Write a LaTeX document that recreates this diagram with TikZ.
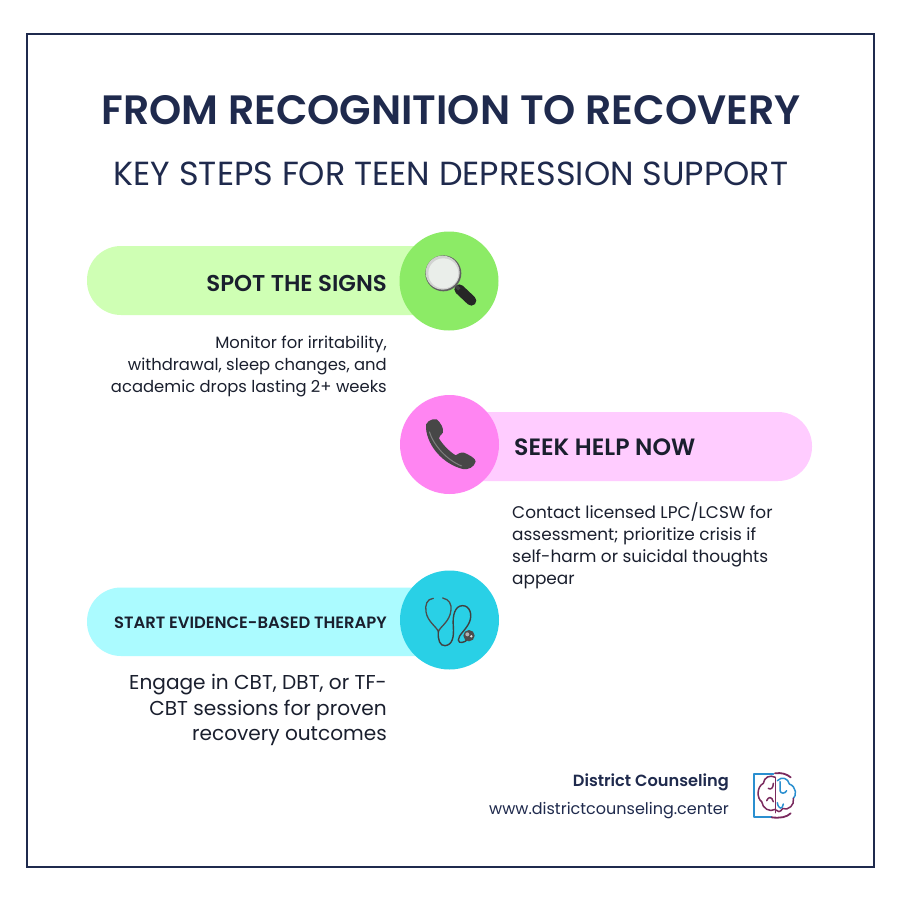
\documentclass[tikz,border=0pt]{standalone}
\usepackage{fontspec}
\setmainfont{Poppins}[BoldFont={Poppins SemiBold}]
\definecolor{navy}{HTML}{1F2A4D}
\definecolor{ink}{HTML}{1A1F2E}
\definecolor{greenl}{HTML}{CFFFB4}
\definecolor{greend}{HTML}{8CEB66}
\definecolor{pinkl}{HTML}{FFCCFF}
\definecolor{pinkd}{HTML}{FF85F2}
\definecolor{cyanl}{HTML}{ABFBFF}
\definecolor{cyand}{HTML}{29D0E6}
\definecolor{logoblue}{HTML}{2A8FD0}
\definecolor{logopurple}{HTML}{7A2A5E}
\tikzset{
  x=1pt,y=-1pt,
  pilltitle/.style={font=\bfseries\fontsize{23}{27}\selectfont,text=ink,inner sep=0pt},
  bodyr/.style={font=\fontsize{16.4}{22}\selectfont,text=ink,inner sep=0pt,align=right,anchor=north east},
  bodyl/.style={font=\fontsize{16.9}{22}\selectfont,text=ink,inner sep=0pt,align=left,anchor=north west},
  disc/.style={circle,minimum size=99pt,inner sep=0pt},
  iconscale/.style={x=0.3333pt,y=-0.3333pt},
}
\begin{document}
\begin{tikzpicture}
\useasboundingbox (0,0) rectangle (900,900);
\fill[white] (0,0) rectangle (900,900);
\node[draw=navy,line width=2pt,minimum width=847pt,minimum height=833pt,inner sep=0pt] (frame) at (450.5,450.5) {};
\node[font=\bfseries\fontsize{41}{47}\selectfont,text=navy,inner sep=0pt] (title) at (451,110) {FROM RECOGNITION TO RECOVERY};
\node[font=\fontsize{33.4}{38}\selectfont,text=navy,inner sep=0pt] (subtitle) at (451,174) {KEY STEPS FOR TEEN DEPRESSION SUPPORT};
% pills
\fill[greenl,rounded corners=34pt] (87,246) rectangle (480,315);
\fill[pinkl,rounded corners=34pt] (420,412) rectangle (812,481);
\fill[cyanl,rounded corners=34pt] (87,587.5) rectangle (480,656);
\node[disc,fill=greend] (disc1) at (449,281) {};
\node[disc,fill=pinkd] (disc2) at (449.5,444.5) {};
\node[disc,fill=cyand] (disc3) at (449.5,620) {};
\node[pilltitle,anchor=east,font=\bfseries\fontsize{22.9}{27}\selectfont] (t1) at (387,283.5) {SPOT THE SIGNS};
\node[pilltitle,anchor=west,font=\bfseries\fontsize{23.6}{27}\selectfont] (t2) at (514,447.5) {SEEK HELP NOW};
\node[pilltitle,anchor=east,font=\bfseries\fontsize{16.4}{20}\selectfont] (t3) at (387,623) {START EVIDENCE-BASED THERAPY};
\node[bodyr] (b1) at (387,336) {Monitor for irritability,\\withdrawal, sleep changes, and\\academic drops lasting 2+ weeks};
\node[bodyl] (b2) at (512,502) {Contact licensed LPC/LCSW for\\assessment; prioritize crisis if\\self-harm or suicidal thoughts\\appear};
\node[bodyr,font=\fontsize{20.1}{25.5}\selectfont] (b3) at (387,674) {Engage in CBT, DBT, or TF-\\CBT sessions for proven\\recovery outcomes};
\node[font=\bfseries\fontsize{16.2}{20}\selectfont,text=navy,inner sep=0pt,anchor=east] (brand) at (729,782) {District Counseling};
\node[font=\fontsize{16}{20}\selectfont,text=navy,inner sep=0pt,anchor=east] (url) at (729,810.5) {www.districtcounseling.center};
% magnifier
\begin{scope}[shift={(390,225)},iconscale]
\draw[line width=10pt,line cap=round,black!85] (208,193) -- (244,227);
\draw[line width=3.5pt,gray!50!black] (192,177) -- (208,193);
\fill[gray!75!black] (160,145) circle (54);
\fill[gray!35] (158,143) circle (51);
\fill[green!10!gray!15!white] (160,145) circle (45);
\end{scope}
% phone
\begin{scope}[shift={(390,390)},iconscale]
\fill[black!72] (108,115) .. controls (103,97) and (123,85) .. (140,88) .. controls (152,98) and (162,115) .. (159,128) .. controls (152,135) and (147,140) .. (147,145) .. controls (157,163) and (180,186) .. (197,196) .. controls (203,193) and (210,186) .. (222,188) .. controls (240,196) and (257,205) .. (257,215) .. controls (252,232) and (235,240) .. (218,237) .. controls (160,222) and (113,170) .. (108,115) -- cycle;
\draw[black!50,line width=1pt] (118,125) .. controls (130,165) and (170,210) .. (215,228);
\end{scope}
% stethoscope
\begin{scope}[shift={(390,565)},iconscale,line cap=round]
\draw[black!70,line width=1.3pt] (130,100) .. controls (110,102) and (105,120) .. (108,140) .. controls (112,170) and (140,185) .. (145,200) .. controls (150,185) and (180,170) .. (183,135) .. controls (185,118) and (178,103) .. (158,99);
\draw[black!75,line width=1.4pt] (145,200) .. controls (143,225) and (150,243) .. (165,242) .. controls (188,240) and (192,215) .. (190,185) .. controls (187,150) and (195,122) .. (218,122) .. controls (240,122) and (248,150) .. (238,172) .. controls (228,195) and (205,210) .. (205,225) .. controls (206,238) and (225,232) .. (232,224);
\fill[black!70] (237,212) circle (17);
\fill[gray!60] (232,208) circle (6);
\fill[white!75!gray] (244,214) circle (4);
\end{scope}
% logo
\begin{scope}[shift={(740,760)},iconscale,line width=1.5pt,line cap=round,line join=round]
\draw[logoblue,line width=1.8pt] (100,42) -- (42,42) -- (42,172) -- (95,172);
\draw[logoblue] (112,62) .. controls (125,48) and (145,55) .. (148,72) .. controls (170,80) and (170,108) .. (160,115);
\draw[logoblue] (120,65) -- (120,92) .. controls (122,102) and (135,102) .. (140,92);
\draw[logoblue] (112,128) .. controls (115,148) and (128,150) .. (130,132);
\draw[logopurple] (160,115) .. controls (165,135) and (145,152) .. (128,146) .. controls (120,158) and (112,156) .. (108,150);
\draw[logopurple] (106,52) .. controls (90,43) and (72,52) .. (70,70) .. controls (50,80) and (50,115) .. (65,125) .. controls (68,145) and (88,158) .. (106,148);
\draw[logopurple] (106,55) -- (106,158);
\draw[logopurple] (100,70) .. controls (100,85) and (92,90) .. (85,85);
\draw[logopurple] (100,125) .. controls (95,108) and (85,110) .. (80,122);
\draw[logopurple,line width=1.8pt] (105,40) .. controls (125,37) and (140,42) .. (152,52);
\draw[logopurple,line width=1.8pt] (95,172) .. controls (120,175) and (140,172) .. (152,160);
\end{scope}
\end{tikzpicture}
\end{document}
